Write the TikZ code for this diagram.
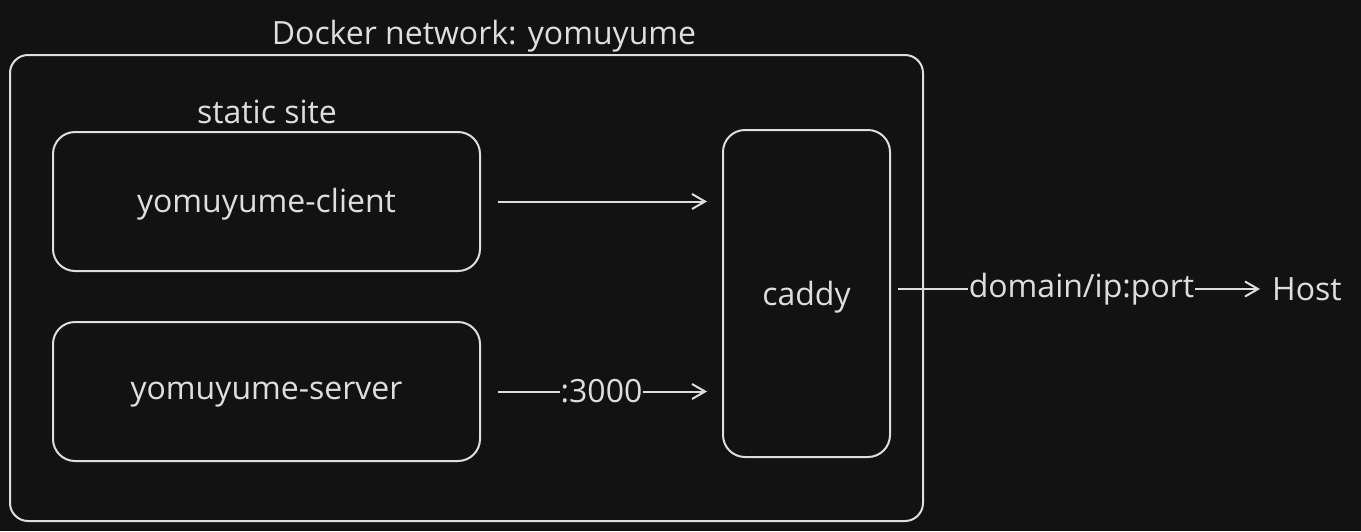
\documentclass[tikz,border=0pt]{standalone}
\usepackage{fontspec}
\setmainfont{Open Sans}
\usetikzlibrary{arrows.meta}
\definecolor{bg}{HTML}{121212}
\definecolor{ink}{HTML}{DEDEDE}
\begin{document}
\begin{tikzpicture}[x=1pt,y=-1pt,
  box/.style={draw=ink,line width=2pt,rounded corners=22pt,inner sep=0pt},
  lbl/.style={text=ink,font=\fontsize{32}{36}\selectfont,inner sep=2pt},
  conn/.style={draw=ink,line width=2pt,-{Straight Barb[length=13pt,width=15pt,line width=2pt]}},
  onconn/.style={lbl,fill=bg,inner sep=1pt}]
\fill[bg] (0,0) rectangle (1361,531);
\useasboundingbox (0,0) rectangle (1361,531);
\node[box,rounded corners=18pt,minimum width=913pt,minimum height=466pt] (net) at (466.5,288) {};
\node[lbl] (title) at (484,36) {Docker network: yomuyume};
\node[lbl] (static) at (267,112) {static site};
\node[box,minimum width=427pt,minimum height=139pt] (client) at (266.5,201.5) {};
\node[lbl] at ([yshift=-3pt]client.center) {yomuyume-client};
\node[box,minimum width=427pt,minimum height=139pt] (server) at (266.5,391.5) {};
\node[lbl] at ([yshift=-3pt]server.center) {yomuyume-server};
\node[box,minimum width=167pt,minimum height=327pt] (caddy) at (806.5,293.5) {};
\node[lbl] at ([yshift=-4pt]caddy.center) {caddy};
\node[lbl,anchor=west,inner sep=0pt] (host) at (1272,289) {Host};
\draw[conn,shorten <=17pt,shorten >=15pt] (client.east) -- (client.east -| caddy.west);
\draw[conn,shorten <=17pt,shorten >=15pt] (server.east) -- node[onconn] {:3000} (server.east -| caddy.west);
\draw[conn,shorten <=7pt,shorten >=12pt] (caddy.east |- host.west) -- node[onconn] {domain/ip:port} (host.west);
\end{tikzpicture}
\end{document}
